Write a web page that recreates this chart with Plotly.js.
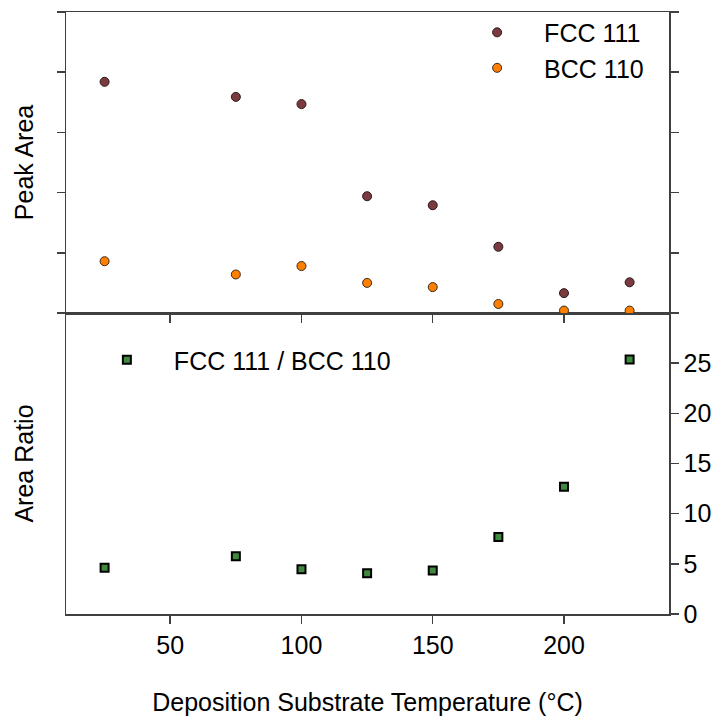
<!DOCTYPE html>
<html>
<head>
<meta charset="utf-8">
<script src="https://cdn.plot.ly/plotly-3.0.1.min.js"></script>
<style>html,body{margin:0;padding:0;background:#fff;}#chart{width:723px;height:722px;}</style>
</head>
<body>
<div id="chart"></div>
<script>
// Data
const temperature = [25, 75, 100, 125, 150, 175, 200, 225];
const fcc111Area = [3.84, 3.59, 3.47, 1.94, 1.79, 1.10, 0.33, 0.51];
const bcc110Area = [0.86, 0.64, 0.78, 0.50, 0.43, 0.15, 0.04, 0.04];
const areaRatio = [4.6, 5.76, 4.47, 4.07, 4.34, 7.68, 12.68, 25.36];
const ratioTicks = [0, 5, 10, 15, 20, 25];
const xTicks = [50, 100, 150, 200];
const peakTicks = [0, 1, 2, 3, 4, 5];

const FONT = 'Liberation Sans, Arial, sans-serif';
const AXC = '#404040';

const traces = [
  {
    x: temperature, y: fcc111Area, name: 'FCC 111', type: 'scatter', mode: 'markers',
    xaxis: 'x2', yaxis: 'y2', legend: 'legend',
    marker: {symbol: 'circle', size: 9, color: '#7b3a3e', line: {color: '#2a1a1a', width: 1}}
  },
  {
    x: temperature, y: bcc110Area, name: 'BCC 110', type: 'scatter', mode: 'markers',
    xaxis: 'x2', yaxis: 'y2', legend: 'legend',
    marker: {symbol: 'circle', size: 9, color: '#ff8000', line: {color: '#3a2a1a', width: 1}}
  },
  {
    x: temperature, y: areaRatio, name: 'FCC 111 / BCC 110', type: 'scatter', mode: 'markers',
    xaxis: 'x', yaxis: 'y', legend: 'legend2',
    marker: {symbol: 'square', size: 8, color: '#3f8a3f', line: {color: '#000000', width: 2}}
  },
  {
    // same series bound to the right-hand ratio axis so that axis is drawn
    x: temperature, y: areaRatio, name: 'ratio (right axis)', type: 'scatter', mode: 'markers',
    xaxis: 'x', yaxis: 'y3', showlegend: false, hoverinfo: 'skip',
    marker: {symbol: 'square', size: 8, color: 'rgba(0,0,0,0)', line: {width: 0}}
  }
];

const layout = {
  width: 723, height: 722,
  margin: {l: 66, r: 54, t: 10, b: 108},
  paper_bgcolor: '#ffffff', plot_bgcolor: '#ffffff',
  font: {family: FONT, size: 25, color: '#000'},
  showlegend: true,
  legend: {
    x: 0.637, y: 1.004, xanchor: 'left', yanchor: 'top',
    bgcolor: 'rgba(0,0,0,0)', borderwidth: 0, itemwidth: 84,
    font: {family: FONT, size: 25, color: '#000'}, tracegroupgap: 0
  },
  legend2: {
    x: 0.023, y: 0.46, xanchor: 'left', yanchor: 'top',
    bgcolor: 'rgba(0,0,0,0)', borderwidth: 0, itemwidth: 84,
    font: {family: FONT, size: 25, color: '#000'}
  },
  xaxis: {
    domain: [0, 1], anchor: 'y', range: [10.3, 240],
    tickmode: 'array', tickvals: xTicks, ticktext: xTicks.map(String),
    ticks: 'outside', ticklen: 8, tickwidth: 1.5, tickcolor: AXC,
    showline: true, linecolor: AXC, linewidth: 1.5, mirror: true,
    showgrid: false, zeroline: false,
    tickfont: {family: FONT, size: 25, color: '#000'},
    title: {text: 'Deposition Substrate Temperature (°C)', font: {family: FONT, size: 25, color: '#000'}, standoff: 36}
  },
  xaxis2: {
    domain: [0, 1], anchor: 'y2', range: [10.3, 240], matches: 'x',
    tickmode: 'array', tickvals: xTicks, showticklabels: false,
    ticks: 'outside', ticklen: 8, tickwidth: 1.5, tickcolor: AXC,
    showline: true, linecolor: AXC, linewidth: 1.5, mirror: true,
    showgrid: false, zeroline: false
  },
  yaxis: {
    domain: [0, 0.5], anchor: 'x', range: [0, 30],
    tickmode: 'array', tickvals: ratioTicks, showticklabels: false, ticks: '',
    showline: true, linecolor: AXC, linewidth: 1.5, mirror: false,
    showgrid: false, zeroline: false,
    title: {text: 'Area Ratio', font: {family: FONT, size: 25, color: '#000'}, standoff: 24}
  },
  yaxis3: {
    overlaying: 'y', side: 'right', anchor: 'x', range: [0, 30],
    tickmode: 'array', tickvals: ratioTicks, ticktext: ratioTicks.map(String),
    ticks: 'outside', ticklen: 8, tickwidth: 1.5, tickcolor: AXC,
    showline: true, linecolor: AXC, linewidth: 1.5,
    showgrid: false, zeroline: false,
    tickfont: {family: FONT, size: 25, color: '#000'}
  },
  yaxis2: {
    domain: [0.5, 1], anchor: 'x2', range: [0, 5],
    tickmode: 'array', tickvals: peakTicks, showticklabels: false,
    ticks: 'outside', ticklen: 8, tickwidth: 1.5, tickcolor: AXC,
    showline: true, linecolor: AXC, linewidth: 1.5, mirror: 'ticks',
    showgrid: false, zeroline: false,
    title: {text: 'Peak Area', font: {family: FONT, size: 25, color: '#000'}, standoff: 16}
  }
};

Plotly.newPlot('chart', traces, layout, {displayModeBar: false, staticPlot: true});
</script>
</body>
</html>
